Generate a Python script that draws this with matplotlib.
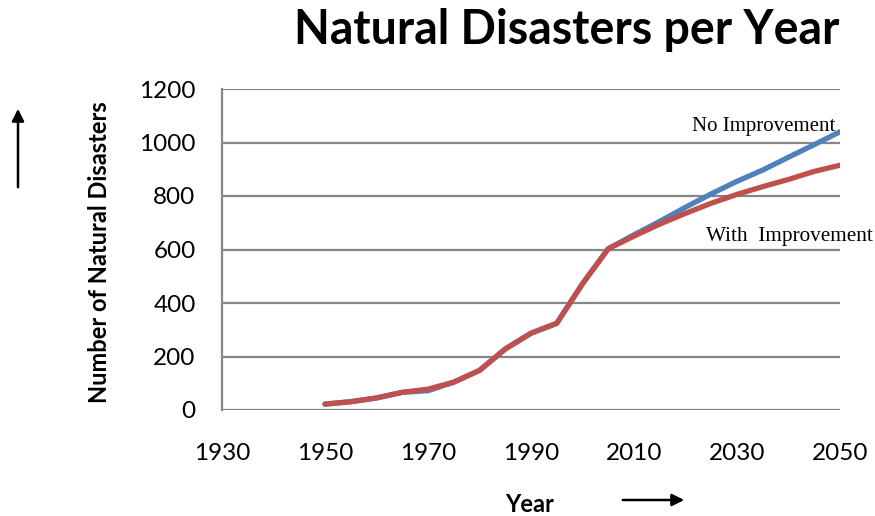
import matplotlib
matplotlib.use("Agg")
import matplotlib.pyplot as plt

years = [1950, 1955, 1960, 1965, 1970, 1975, 1980, 1985, 1990, 1995, 2000,
         2005, 2010, 2015, 2020, 2025, 2030, 2035, 2040, 2045, 2050]
no_improvement = [22, 31, 45, 66, 72, 104, 148, 228, 287, 324, 472,
                  603, 655, 705, 758, 808, 855, 897, 945, 992, 1040]
with_improvement = [22, 31, 45, 66, 78, 104, 148, 228, 287, 324, 472,
                    603, 650, 695, 735, 773, 806, 835, 862, 892, 915]
x_ticks = [1930, 1950, 1970, 1990, 2010, 2030, 2050]
y_ticks = [0, 200, 400, 600, 800, 1000, 1200]

fig = plt.figure(figsize=(8.75, 5.16), dpi=100)
ax = fig.add_axes([222/875, 1-410/516, (840-222)/875, (410-89)/516])

grid_c = "#868686"
for v in y_ticks:
    ax.axhline(v, color=grid_c, lw=1.6, zorder=1)

ax.plot(years, no_improvement, color="#4F81BD", lw=3.8, solid_capstyle="round", zorder=3)
ax.plot(years, with_improvement, color="#C0504D", lw=3.8, solid_capstyle="round", zorder=4)

ax.set_xlim(1930, 2050)
ax.set_ylim(0, 1200)
ax.set_xticks(x_ticks)
ax.set_yticks(y_ticks)
for s in ["top", "right", "bottom"]:
    ax.spines[s].set_visible(False)
ax.spines["left"].set_color(grid_c)
ax.spines["left"].set_linewidth(1.6)
ax.tick_params(axis="x", length=0, pad=24, labelsize=17.5)
ax.tick_params(axis="y", length=0, pad=19, labelsize=17.5)
for lab in ax.get_xticklabels() + ax.get_yticklabels():
    lab.set_family("Lato")

fig.text(567/875, 1-30/516, "Natural Disasters per Year", ha="center", va="center",
         fontsize=33.5, fontweight="bold", family="Lato")
fig.text(100/875, 1-252/516, "Number of Natural Disasters", ha="center", va="center",
         rotation=90, fontsize=17, fontweight="bold", family="Lato")
fig.text(530/875, 1-505/516, "Year", ha="center", va="center",
         fontsize=17, fontweight="bold", family="Lato")

fig.text(835/875, 1-127/516, "No Improvement", ha="right", va="center",
         fontsize=15, family="Liberation Serif")
fig.text(873/875, 1-237/516, "With  Improvement", ha="right", va="center",
         fontsize=15.3, family="Liberation Serif")

# arrows
fig.add_artist(matplotlib.patches.FancyArrowPatch(
    (18/875, 1-190/516), (18/875, 1-106/516), transform=fig.transFigure,
    arrowstyle="-|>", mutation_scale=18, color="black", lw=1.8))
fig.add_artist(matplotlib.patches.FancyArrowPatch(
    (620/875, 1-500/516), (687/875, 1-500/516), transform=fig.transFigure,
    arrowstyle="-|>", mutation_scale=18, color="black", lw=1.8))

fig.savefig("out.png", dpi=100)
